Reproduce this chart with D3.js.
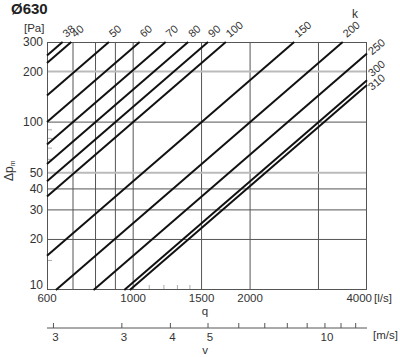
<!DOCTYPE html>
<html>
<head>
<meta charset="utf-8">
<script src="https://cdn.jsdelivr.net/npm/d3@7"></script>
<style>
  html, body { margin: 0; padding: 0; background: #fff; }
  svg { display: block; font-family: "Liberation Sans", Arial, Helvetica, sans-serif; }
</style>
</head>
<body>
<svg id="chart" width="400" height="357"></svg>
<script>
// ---- data ----
const title = "Ø630";
const kLabels = ["38","40","50","60","70","80","90","100","150","200","250","300","310"];
// line endpoints [q l/s, dp Pa]
const lineStart = [[600,249.3],[600,225],[600,144],[600,100],[600,73.5],[600,56.25],[600,44.4],[600,36],[600,16],[632.5,10],[790.6,10],[948.7,10],[980.3,10]];
const lineEnd   = [[658.2,300],[692.8,300],[866,300],[1039.2,300],[1212.4,300],[1385.6,300],[1558.8,300],[1732.1,300],[2598,300],[3464,300],[4000,256],[4000,177.8],[4000,166.5]];
const yTickValues = [10,20,30,40,50,100,200,300];
const yGridValues = [20,30,40,100];
const yGridHighlight = [50,200];
const yMinorTicks = [15,60,70,80,90];
const xTickValues = [600,1000,1500,2000,4000];
const xGridValues = [700,800,900,1000,1500,2000,3000];
const xMinorTicks = [1100,1200,1300,1400];
const vTickValues = [2,3,4,5,6,7,8,9,10,11,12];
const vTickLabels = ["3","3","4","5","","","","","10","",""];
const ductArea = Math.PI * 0.315 * 0.315; // m2, Ø630

// ---- layout ----
const L = 47, R = 367, T = 42, B = 290;
const svg = d3.select("#chart");
const x = d3.scaleLog().domain([600, 4000]).range([L, R]);
const y = d3.scaleLog().domain([10, 300]).range([B, T]);
const v = d3.scaleLog().domain([600 / 1000 / ductArea, 4000 / 1000 / ductArea]).range([L, R]);
const textCol = "#333";
const gridCol = "#555";

// grid
const g = svg.append("g");
g.selectAll(".xg").data(xGridValues).enter().append("line")
  .attr("x1", d => x(d)).attr("x2", d => x(d)).attr("y1", T).attr("y2", B)
  .attr("stroke", gridCol).attr("stroke-width", 1);
g.selectAll(".yg").data(yGridValues).enter().append("line")
  .attr("x1", L).attr("x2", R).attr("y1", d => y(d)).attr("y2", d => y(d))
  .attr("stroke", gridCol).attr("stroke-width", 1);
g.selectAll(".yh").data(yGridHighlight).enter().append("line")
  .attr("x1", L).attr("x2", R).attr("y1", d => y(d)).attr("y2", d => y(d))
  .attr("stroke", "#bbb").attr("stroke-width", 2);
g.selectAll(".ym").data(yMinorTicks).enter().append("line")
  .attr("x1", L).attr("x2", L + 5).attr("y1", d => y(d)).attr("y2", d => y(d))
  .attr("stroke", "#aaa").attr("stroke-width", 1);
g.selectAll(".xm").data(xMinorTicks).enter().append("line")
  .attr("x1", d => x(d)).attr("x2", d => x(d)).attr("y1", B).attr("y2", B - 5)
  .attr("stroke", "#aaa").attr("stroke-width", 1);
g.append("rect").attr("x", L + 0.5).attr("y", T + 0.5).attr("width", R - L - 1).attr("height", B - T - 1)
  .attr("fill", "none").attr("stroke", gridCol).attr("stroke-width", 1);

// lines
const lines = kLabels.map((k, i) => ({k, s: lineStart[i], e: lineEnd[i]}));
svg.append("g").selectAll("line").data(lines).enter().append("line")
  .attr("x1", d => x(d.s[0])).attr("y1", d => y(d.s[1]))
  .attr("x2", d => x(d.e[0])).attr("y2", d => y(d.e[1]))
  .attr("stroke", "#111").attr("stroke-width", 2);

// line labels
svg.append("g").selectAll("text").data(lines).enter().append("text")
  .attr("transform", d => {
    let px = x(d.e[0]), py = y(d.e[1]);
    if (d.e[1] >= 300) { px += 4; py = T - 4; }
    else { px = R + 5; py += 2; if (d.k === "300") py -= 5; if (d.k === "310") py += 4; }
    return `translate(${px},${py}) rotate(-40)`;
  })
  .attr("font-size", 11).attr("fill", textCol).text(d => d.k);

svg.append("text").attr("x", 355).attr("y", 18).attr("font-size", 12).attr("text-anchor", "middle")
  .attr("fill", textCol).text("k");

// y axis labels
svg.append("g").selectAll("text").data(yTickValues).enter().append("text")
  .attr("x", L - 4).attr("y", d => d === 10 ? y(d) - 1 : y(d) + 4).attr("text-anchor", "end")
  .attr("font-size", 12).attr("fill", textCol).text(d => d);

// x axis labels
svg.append("g").selectAll("text").data(xTickValues).enter().append("text")
  .attr("x", d => d === 4000 ? x(d) + 5 : x(d)).attr("y", 302)
  .attr("text-anchor", d => d === 4000 ? "end" : "middle")
  .attr("font-size", 11.5).attr("fill", textCol).text(d => d);
svg.append("text").attr("x", 374).attr("y", 302).attr("font-size", 11.5).attr("fill", textCol).text("[l/s]");
svg.append("text").attr("x", 205).attr("y", 315).attr("text-anchor", "middle").attr("font-size", 11.5).attr("fill", textCol).text("q");

// velocity axis
const vy = 328;
svg.append("line").attr("x1", L).attr("x2", R).attr("y1", vy).attr("y2", vy).attr("stroke", gridCol).attr("stroke-width", 1);
svg.append("g").selectAll("line").data(vTickValues).enter().append("line")
  .attr("x1", d => v(d)).attr("x2", d => v(d)).attr("y1", vy).attr("y2", vy - 5)
  .attr("stroke", gridCol).attr("stroke-width", 1);
svg.append("g").selectAll("text").data(vTickValues).enter().append("text")
  .attr("x", d => v(d) + 2).attr("y", 341).attr("text-anchor", "middle")
  .attr("font-size", 11.5).attr("fill", textCol).text((d, i) => vTickLabels[i]);
svg.append("text").attr("x", 373).attr("y", 339).attr("font-size", 11.5).attr("fill", textCol).text("[m/s]");
svg.append("text").attr("x", 205).attr("y", 354).attr("text-anchor", "middle").attr("font-size", 11.5).attr("fill", textCol).text("v");

// titles
svg.append("text").attr("x", 11).attr("y", 14).attr("font-size", 15).attr("font-weight", "bold").attr("fill", "#222").text(title);
svg.append("text").attr("x", 24).attr("y", 32).attr("font-size", 11.5).attr("fill", textCol).text("[Pa]");
const yl = svg.append("text").attr("transform", "translate(13,181) rotate(-90)").attr("font-size", 12).attr("fill", textCol);
yl.append("tspan").text("Δp");
yl.append("tspan").attr("font-size", 7).attr("dy", 2).text("m");
</script>
</body>
</html>
